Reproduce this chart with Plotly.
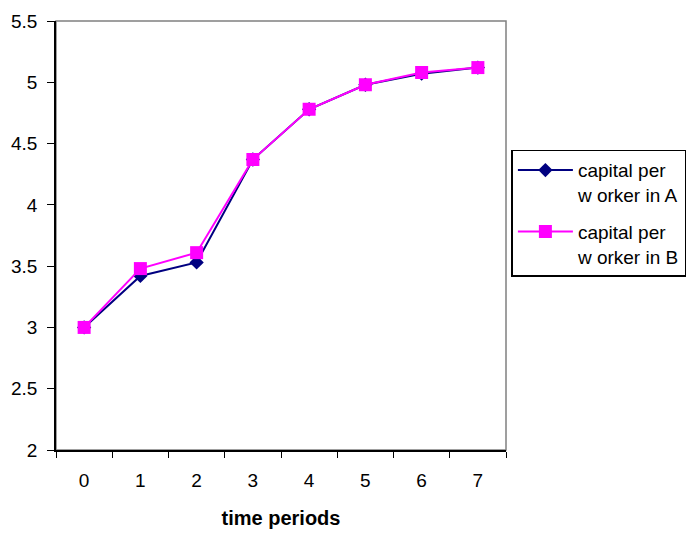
import plotly.graph_objects as go

periods = ["0", "1", "2", "3", "4", "5", "6", "7"]
capital_a = [3.00, 3.42, 3.53, 4.37, 4.78, 4.98, 5.07, 5.12]
capital_b = [3.00, 3.48, 3.61, 4.37, 4.78, 4.98, 5.08, 5.12]
y_ticks = [2, 2.5, 3, 3.5, 4, 4.5, 5, 5.5]
y_tick_text = ["2", "2.5", "3", "3.5", "4", "4.5", "5", "5.5"]

font_family = "Liberation Sans, Arial, sans-serif"

fig = go.Figure()
fig.add_trace(go.Scatter(
    x=periods, y=capital_a, mode="lines+markers",
    name="capital per<br>w orker in A", legendgroup="A",
    line=dict(color="#000080", width=2),
    marker=dict(symbol="diamond", size=11, color="#000080"),
))
fig.add_trace(go.Scatter(
    x=periods, y=capital_b, mode="lines+markers",
    name="capital per<br>w orker in B", legendgroup="B",
    line=dict(color="#FF00FF", width=2),
    marker=dict(symbol="square", size=13, color="#FF00FF"),
))

fig.add_shape(type="rect", xref="paper", yref="paper", x0=0, y0=0, x1=1, y1=1,
              line=dict(color="#808080", width=1.5), layer="below")

fig.update_layout(
    width=699, height=538,
    margin=dict(l=56, r=193, t=21, b=88),
    paper_bgcolor="white", plot_bgcolor="white",
    font=dict(family=font_family, size=19, color="black"),
    showlegend=True,
    legend=dict(
        x=1.012, y=0.70, xanchor="left", yanchor="top",
        bordercolor="black", borderwidth=1.5,
        font=dict(size=19, family=font_family),
        tracegroupgap=9, itemwidth=55, valign="top",
    ),
    xaxis=dict(
        type="category", range=[-0.5, 7.5],
        tickson="boundaries", ticks="outside", ticklen=6,
        tickcolor="black", showline=True, linecolor="black", linewidth=1.5,
        showgrid=False, zeroline=False, ticklabelstandoff=12,
        title=dict(text="<b>time periods</b>", font=dict(size=20), standoff=21),
    ),
    yaxis=dict(
        range=[2, 5.5], tickvals=y_ticks, ticktext=y_tick_text,
        ticks="outside", ticklen=7, tickcolor="black",
        showline=True, linecolor="black", linewidth=1.5,
        showgrid=False, zeroline=False, ticklabelstandoff=6,
    ),
)

fig.write_html("out.html")
